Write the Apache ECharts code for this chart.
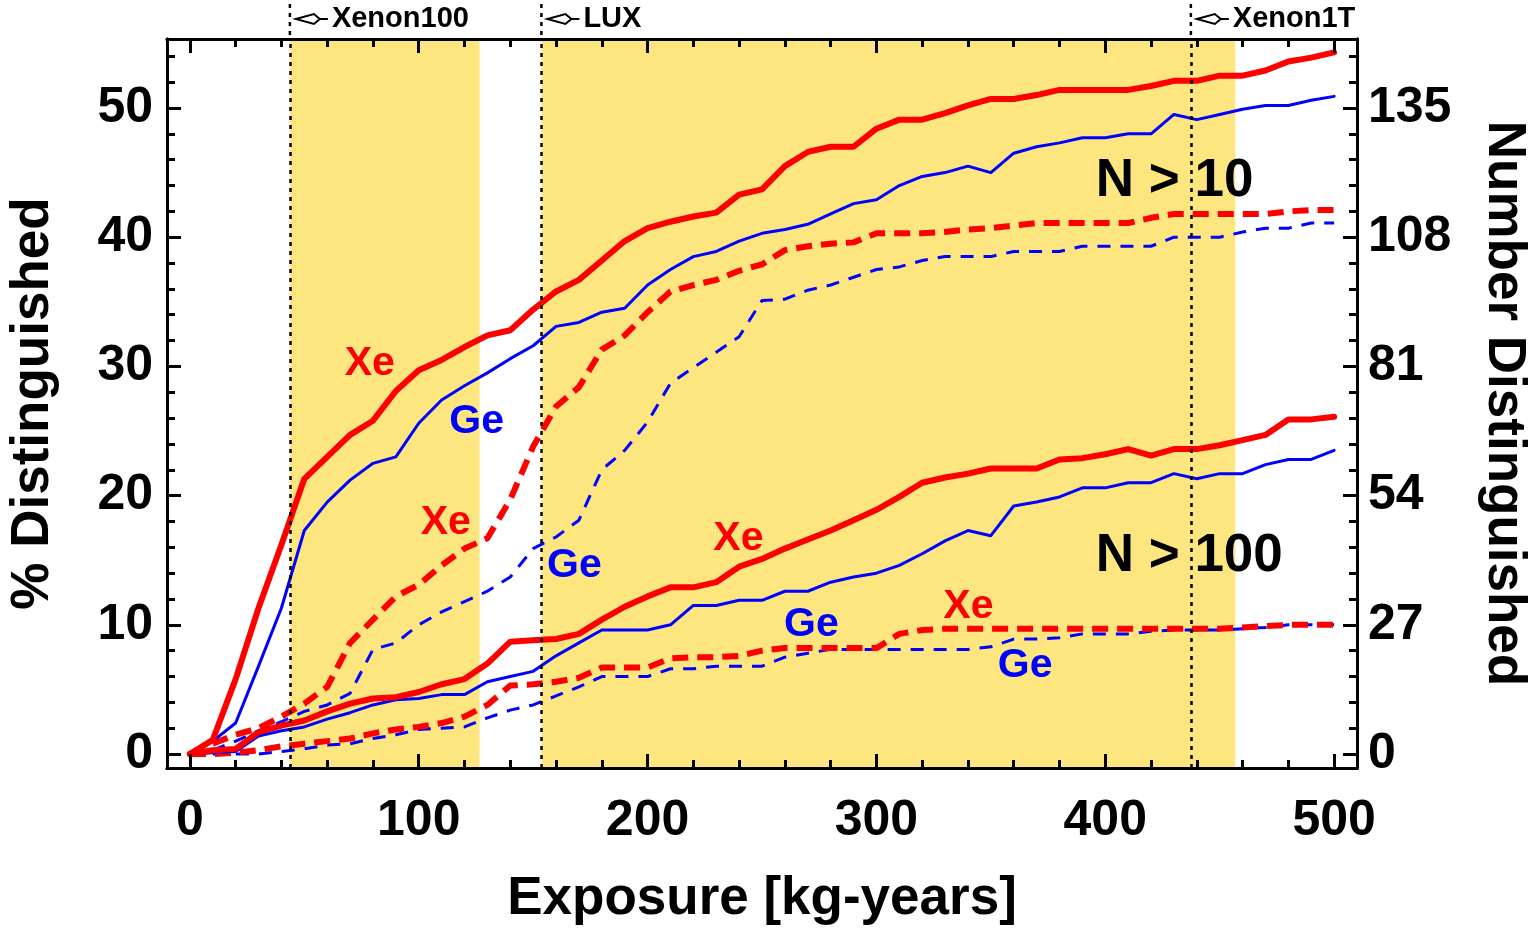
<!DOCTYPE html>
<html>
<head>
<meta charset="utf-8">
<title>Distinguished vs exposure</title>
<script src="https://cdn.jsdelivr.net/npm/echarts@6/dist/echarts.min.js"></script>
<style>
    html, body { margin: 0; padding: 0; background: #fff; }
    #main { width: 1528px; height: 929px; }
</style>
</head>
<body>
<div id="main"></div>
<script>
    // exposure [kg-years]
    var exposure = [0, 10, 20, 30, 40, 50, 60, 70, 80, 90, 100, 110, 120, 130, 140, 150, 160, 170, 180, 190, 200,
        210, 220, 230, 240, 250, 260, 270, 280, 290, 300, 310, 320, 330, 340, 350, 360, 370, 380, 390, 400,
        410, 420, 430, 440, 450, 460, 470, 480, 490, 500];

    // % distinguished, N > 10
    var xeN10 = [0, 1.1, 5.8, 11.3, 16.2, 21.3, 23.0, 24.7, 25.8, 28.1, 29.7, 30.5, 31.5, 32.4, 32.8, 34.4, 35.8,
        36.7, 38.2, 39.7, 40.7, 41.2, 41.6, 41.9, 43.3, 43.7, 45.5, 46.6, 47.0, 47.0, 48.4, 49.1, 49.1, 49.6, 50.2,
        50.7, 50.7, 51.0, 51.4, 51.4, 51.4, 51.4, 51.7, 52.1, 52.1, 52.5, 52.5, 52.9, 53.6, 53.9, 54.3];
    var geN10 = [0, 1.0, 2.4, 6.8, 11.3, 17.3, 19.5, 21.2, 22.5, 23.0, 25.6, 27.4, 28.5, 29.5, 30.6, 31.6, 33.1,
        33.4, 34.2, 34.5, 36.3, 37.5, 38.5, 38.9, 39.7, 40.3, 40.6, 41.0, 41.8, 42.6, 42.9, 44.0, 44.7, 45.0, 45.5,
        45.0, 46.5, 47.0, 47.3, 47.7, 47.7, 48.0, 48.0, 49.5, 49.1, 49.5, 49.9, 50.2, 50.2, 50.6, 50.9];
    var xeN10Dash = [0, 0.8, 1.5, 2.0, 2.9, 3.9, 5.2, 8.6, 10.4, 12.2, 13.1, 14.6, 15.9, 16.7, 19.7, 23.8, 26.9,
        28.4, 31.3, 32.4, 34.2, 35.8, 36.3, 36.7, 37.4, 37.9, 39.0, 39.3, 39.5, 39.6, 40.3, 40.3, 40.3, 40.4, 40.6,
        40.7, 40.9, 41.1, 41.1, 41.1, 41.1, 41.1, 41.5, 41.8, 41.8, 41.8, 41.8, 41.8, 42.0, 42.1, 42.1];
    var geN10Dash = [0, 0.3, 1.0, 1.8, 2.5, 3.3, 3.8, 4.7, 8.1, 8.6, 10.0, 11.0, 11.8, 12.6, 13.7, 15.9, 16.8,
        18.1, 22.0, 23.5, 25.7, 28.7, 29.9, 31.1, 32.3, 35.1, 35.2, 35.9, 36.3, 36.9, 37.5, 37.7, 38.2, 38.5, 38.5,
        38.5, 38.9, 38.9, 38.9, 39.3, 39.3, 39.3, 39.3, 40.0, 40.0, 40.0, 40.4, 40.7, 40.7, 41.1, 41.1];

    // % distinguished, N > 100
    var xeN100 = [0, 0.3, 0.4, 1.7, 2.2, 2.6, 3.3, 3.9, 4.3, 4.4, 4.8, 5.4, 5.8, 7.0, 8.7, 8.8, 8.9, 9.3, 10.4,
        11.4, 12.2, 12.9, 12.9, 13.3, 14.5, 15.1, 15.9, 16.6, 17.3, 18.1, 18.9, 19.9, 21.0, 21.4, 21.7, 22.1, 22.1,
        22.1, 22.8, 22.9, 23.2, 23.6, 23.1, 23.6, 23.6, 23.9, 24.3, 24.7, 25.9, 25.9, 26.1];
    var geN100 = [0, 0.1, 0.2, 1.4, 1.8, 2.1, 2.7, 3.2, 3.8, 4.2, 4.3, 4.6, 4.6, 5.6, 6.0, 6.4, 7.6, 8.6, 9.6,
        9.6, 9.6, 10.0, 11.5, 11.5, 11.9, 11.9, 12.6, 12.6, 13.3, 13.7, 14.0, 14.6, 15.5, 16.5, 17.3, 16.9, 19.2,
        19.5, 19.9, 20.6, 20.6, 21.0, 21.0, 21.7, 21.3, 21.7, 21.7, 22.4, 22.8, 22.8, 23.5];
    var xeN100Dash = [0, 0, 0.1, 0.3, 0.6, 0.8, 1.0, 1.2, 1.6, 1.9, 2.1, 2.4, 2.9, 3.8, 5.3, 5.4, 5.6, 5.9, 6.7,
        6.7, 6.7, 7.4, 7.5, 7.5, 7.6, 8.0, 8.2, 8.2, 8.2, 8.2, 8.2, 9.3, 9.6, 9.7, 9.7, 9.7, 9.7, 9.7, 9.7, 9.7,
        9.7, 9.7, 9.7, 9.7, 9.7, 9.7, 9.8, 9.9, 10.0, 10.0, 10.0];
    var geN100Dash = [0, 0, 0, 0, 0.2, 0.4, 0.7, 0.8, 1.2, 1.5, 1.9, 2.0, 2.1, 2.8, 3.4, 3.8, 4.5, 5.2, 6.0,
        6.0, 6.0, 6.6, 6.6, 6.8, 6.8, 6.8, 7.5, 7.8, 8.1, 8.1, 8.1, 8.1, 8.1, 8.1, 8.1, 8.3, 8.9, 8.9, 9.0, 9.3,
        9.3, 9.3, 9.5, 9.6, 9.6, 9.6, 9.7, 9.8, 10.0, 10.0, 10.0];

    // ticks
    var xMajor = [0, 100, 200, 300, 400, 500];
    var xMinor = [20, 40, 60, 80, 120, 140, 160, 180, 220, 240, 260, 280, 320, 340, 360, 380, 420, 440, 460, 480];
    var leftMajor = [0, 10, 20, 30, 40, 50];
    var leftMinor = [2, 4, 6, 8, 12, 14, 16, 18, 22, 24, 26, 28, 32, 34, 36, 38, 42, 44, 46, 48, 52, 54];
    var rightMajor = [0, 27, 54, 81, 108, 135];
    var rightMinor = [5.4, 10.8, 16.2, 21.6, 32.4, 37.8, 43.2, 48.6, 59.4, 64.8, 70.2, 75.6, 86.4, 91.8, 97.2,
        102.6, 113.4, 118.8, 124.2, 129.6, 140.4, 145.8];

    // experiments (exposure where they reach) and shaded spans
    var expNames = ["Xenon100", "LUX", "Xenon1T"];
    var expAt = [43.7, 153.6, 437.4];
    var shadeFrom = [43.7, 153.6];
    var shadeTo = [126.6, 456.8];

    // curve labels
    var noteText = ["Xe", "Ge", "Xe", "Ge", "Xe", "Ge", "Xe", "Ge", "N > 10", "N > 100"];
    var noteX = [78.6, 125.3, 111.8, 168.0, 239.7, 271.6, 340.2, 365.0, 430.3, 436.7];
    var noteY = [30.2, 25.7, 17.9, 14.6, 16.7, 10.0, 11.4, 6.8, 44.3, 15.3];
    var noteColor = ["#ff0000", "#0000ff", "#ff0000", "#0000ff", "#ff0000", "#0000ff", "#ff0000", "#0000ff", "#000", "#000"];

    var FONT = '"Liberation Sans", Arial, Helvetica, sans-serif';
    var RED = "#ff0000";
    var BLUE = "#0000ff";
    var YELLOW = "#fde680";
    var yMin = -1.08, yMax = 55.34;
    var rightRatio = rightMajor[5] / leftMajor[5];

    function pairs(ys) {
        return exposure.map(function (x, i) {
            return [x, ys[i]];
        });
    }

    function curve(name, ys, color, width, dash) {
        return {
            name: name,
            type: "line",
            z: 3,
            data: pairs(ys),
            showSymbol: false,
            silent: true,
            lineStyle: {color: color, width: width, type: dash || "solid", join: "round", cap: dash ? "butt" : "round"}
        };
    }

    // one axis = one set of ticks (major long, minor short)
    function tickAxis(pos, min, max, ticks, len, labels, extra) {
        var ax = {
            type: "value",
            position: pos,
            min: min,
            max: max,
            z: 10,
            splitLine: {show: false},
            axisLine: {show: true, onZero: false, lineStyle: {color: "#000", width: 3}},
            axisTick: {show: true, inside: true, length: len, customValues: ticks, lineStyle: {color: "#000", width: 3}},
            axisLabel: {show: false}
        };
        if (labels) {
            ax.axisLabel = {
                show: true,
                customValues: ticks,
                color: "#000",
                fontFamily: FONT,
                fontWeight: "bold",
                fontSize: 50,
                margin: labels.margin
            };
        }
        for (var k in extra) {
            ax[k] = extra[k];
        }
        return ax;
    }

    var nameStyle = {color: "#000", fontFamily: FONT, fontWeight: "bold", fontSize: 53};

    var chart = echarts.init(document.getElementById("main"));
    var option = {
        animation: false,
        backgroundColor: "#fff",
        grid: {left: 167, top: 39, width: 1190, height: 729, containLabel: false, outerBoundsMode: "none"},
        xAxis: [
            tickAxis("bottom", -10, 510, xMajor, 14, {margin: 28}, {
                name: "Exposure [kg-years]", nameLocation: "middle", nameGap: 105, nameTextStyle: nameStyle
            }),
            tickAxis("bottom", -10, 510, xMinor, 8),
            tickAxis("top", -10, 510, xMajor, 14),
            tickAxis("top", -10, 510, xMinor, 8)
        ],
        yAxis: [
            tickAxis("left", yMin, yMax, leftMajor, 14, {margin: 14}, {
                name: "% Distinguished", nameLocation: "middle", nameRotate: 90, nameGap: 107, nameTextStyle: nameStyle
            }),
            tickAxis("left", yMin, yMax, leftMinor, 8),
            tickAxis("right", yMin * rightRatio, yMax * rightRatio, rightMajor, 14, {margin: 11}, {
                name: "Number Distinguished", nameLocation: "middle", nameRotate: -90, nameGap: 120, nameTextStyle: nameStyle
            }),
            tickAxis("right", yMin * rightRatio, yMax * rightRatio, rightMinor, 8)
        ],
        series: [
            {
                // yellow bands
                type: "line",
                z: 1,
                data: [],
                silent: true,
                markArea: {
                    silent: true,
                    itemStyle: {color: YELLOW, opacity: 1},
                    data: shadeFrom.map(function (a, i) {
                        return [{xAxis: a}, {xAxis: shadeTo[i]}];
                    })
                }
            },
            {
                // experiment lines
                type: "line",
                z: 2,
                data: [],
                silent: true,
                markLine: {
                    silent: true,
                    symbol: "none",
                    label: {show: false},
                    lineStyle: {color: "#000", width: 2.5, type: [4, 5]},
                    data: expAt.map(function (x) {
                        return {xAxis: x};
                    })
                }
            },
            curve("Ge N>10 dashed", geN10Dash, BLUE, 3, [13, 10]),
            curve("Xe N>10 dashed", xeN10Dash, RED, 6, [16, 9]),
            curve("Ge N>100 dashed", geN100Dash, BLUE, 3, [13, 10]),
            curve("Xe N>100 dashed", xeN100Dash, RED, 6, [16, 9]),
            curve("Ge N>10", geN10, BLUE, 3),
            curve("Xe N>10", xeN10, RED, 6),
            curve("Ge N>100", geN100, BLUE, 3),
            curve("Xe N>100", xeN100, RED, 6)
        ]
    };
    chart.setOption(option);

    // labels above the frame and curve notes, placed through the axes
    var gridTop = 39;
    var graphics = [];
    for (var i = 0; i < expNames.length; i++) {
        var px = chart.convertToPixel({xAxisIndex: 0}, expAt[i]);
        graphics.push({
            type: "line", silent: true,
            shape: {x1: px, y1: 4, x2: px, y2: gridTop},
            style: {stroke: "#000", lineWidth: 2.5, lineDash: [4, 5]}
        });
        graphics.push({
            type: "polygon", silent: true,
            shape: {points: [[px + 6, 19], [px + 24, 14], [px + 30, 19], [px + 24, 24]]},
            style: {stroke: "#000", lineWidth: 2, fill: "none"}
        });
        graphics.push({
            type: "line", silent: true,
            shape: {x1: px + 30, y1: 19, x2: px + 38, y2: 19},
            style: {stroke: "#000", lineWidth: 2}
        });
        graphics.push({
            type: "text", silent: true,
            x: px + 42, y: 19,
            style: {text: expNames[i], font: "bold 29px " + FONT, fill: "#000", verticalAlign: "middle", align: "left"}
        });
    }
    for (var j = 0; j < noteText.length; j++) {
        var p = chart.convertToPixel({xAxisIndex: 0, yAxisIndex: 0}, [noteX[j], noteY[j]]);
        var big = noteText[j].indexOf("N") === 0;
        graphics.push({
            type: "text", silent: true, z: 20,
            x: p[0], y: p[1],
            style: {
                text: noteText[j],
                font: "bold " + (big ? 53 : 41) + "px " + FONT,
                fill: noteColor[j],
                align: "center",
                verticalAlign: "middle"
            }
        });
    }
    chart.setOption({graphic: graphics});
</script>
</body>
</html>
